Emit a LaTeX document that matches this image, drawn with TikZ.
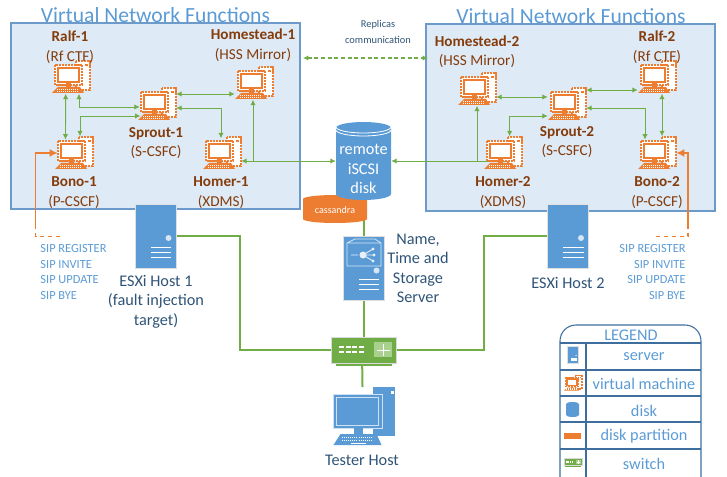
\documentclass[tikz,border=0pt]{standalone}
\usepackage{fontspec}
\setmainfont{Carlito}
\usetikzlibrary{positioning}
\usetikzlibrary{arrows.meta}

\definecolor{boxblue}{HTML}{DEEAF6}
\definecolor{lineblue}{HTML}{6C9BCB}
\definecolor{srvblue}{HTML}{5B9BD5}
\definecolor{darkblue}{HTML}{2F5477}
\definecolor{legblue}{HTML}{3E6E9E}
\definecolor{vmorange}{HTML}{ED7D31}
\definecolor{vmbrown}{HTML}{843C0C}
\definecolor{netgreen}{HTML}{70AD47}
\definecolor{lightgreen}{HTML}{A9D18E}

\tikzset{
 vnfbox/.style={draw=lineblue,fill=boxblue,line width=0.8pt},
 vmnode/.style={rectangle,inner sep=0pt,minimum width=28.5pt,minimum height=24.75pt},
 srvnode/.style={rectangle,inner sep=0pt,minimum width=31pt,minimum height=48pt},
 vmlabel/.style={align=center,text=vmbrown,font=\fontsize{11.4}{14.6}\selectfont},
 hostlabel/.style={align=center,text=darkblue,font=\fontsize{12.2}{14.6}\selectfont},
 vnftitle/.style={text=srvblue,font=\fontsize{16.2}{18}\selectfont},
 siptext/.style={text=srvblue,font=\fontsize{9.3}{11.6}\selectfont},
 legtext/.style={text=srvblue,font=\fontsize{12.2}{14}\selectfont},
 vmlink/.style={draw=netgreen,line width=0.7pt,{Latex[length=4pt,width=4pt]}-{Latex[length=4pt,width=4pt]}},
 vmlinkhalf/.style={draw=netgreen,line width=0.7pt,-{Latex[length=4pt,width=4pt]}},
 netlink/.style={draw=netgreen,line width=1.5pt},
 sipline/.style={draw=vmorange,line width=1.3pt},
 vmdash/.style={draw=vmorange,line width=1pt,dash pattern=on 1.6pt off 0.6pt},
 pics/diskicon/.style n args={4}{code={
  \fill[#4] (-#1,-#2) arc[start angle=180,end angle=360,x radius=#1,y radius=#3]
   -- (#1,#2) arc[start angle=0,end angle=180,x radius=#1,y radius=#3] -- cycle;
 }},
 pics/vmicon/.style={code={
  \draw[vmdash,fill=white] (5,-16) rectangle (19,13);
  \fill[vmorange] (14,-13) rectangle (17,-11);
  \draw[vmdash,fill=white] (-16,-12) rectangle (11,8);
  \draw[vmorange,line width=1.2pt,fill=white] (-13,-9) rectangle (8,5);
  \fill[vmorange] (-5,6) rectangle (0,10);
  \fill[vmorange] (-19,16) -- (-13,10) -- (9,10) -- (13,16) -- cycle;
  \foreach \l in {12,14} \draw[white,densely dotted,line width=0.5pt] (-14,\l) -- (8,\l);
 }},
 pics/srvicon/.style={code={
  \draw[white!75!gray,line width=0.5pt,fill=srvblue] (-20.5,-32) rectangle (20.5,32);
  \fill[white!75!srvblue] (13,2) circle (3);
  \foreach \l in {11,16,21} \draw[white,line width=0.6pt] (-5,\l) -- (15.5,\l);
 }},
 pics/swicon/.style={code={
  \fill[netgreen] (-28,13) rectangle (28,16);
  \draw[white!70!gray,line width=0.6pt,fill=netgreen] (-32.5,-13) rectangle (32.5,13);
  \foreach \px in {-22,-15.5,-9,-2} \foreach \py in {-3,2} \fill[white] (\px-2.5,\py-1.5) rectangle (\px+2.5,\py+1);
  \fill[lightgreen] (10.5,-8) rectangle (28.5,7);
  \draw[white,line width=0.5pt] (13,0) -- (26,0) (19.5,-6) -- (19.5,6);
 }},
 pics/hosticon/.style={code={
  \fill[srvblue] (10.5,-29) rectangle (32.5,20);
  \fill[white] (28,-25) rectangle (31,-22);
  \draw[white!70!srvblue,line width=0.6pt,fill=srvblue] (-29.5,-22) rectangle (19.5,12);
  \draw[white!70!srvblue,line width=0.5pt] (-26,-19) rectangle (16,9);
  \fill[srvblue] (-9,12) rectangle (0,18);
  \fill[srvblue] (-29,29) -- (-22,18) -- (14,18) -- (19,29) -- cycle;
  \foreach \ky in {21,24} \draw[white,densely dotted,line width=0.6pt] (-21,\ky) -- (11,\ky);
  \draw[white,line width=0.6pt] (-12,27) -- (3,27);
 }}
}

\begin{document}
\begin{tikzpicture}[x=0.75pt,y=-0.75pt]
 \useasboundingbox (0,0) rectangle (727,477);
 % boxes of the two clusters
 \draw[vnfbox] (11,23) rectangle (300,209);
 \draw[vnfbox] (426,24) rectangle (715,211);
 \node[vnftitle] (titlea) at (155.5,15) {Virtual Network Functions};
 \node[vnftitle] (titleb) at (571,16) {Virtual Network Functions};
 \node[text=darkblue,align=center,font=\fontsize{7.8}{11.4}\selectfont] (replicas) at (378,32) {Replicas\\communication};
 % nodes
 \foreach \name/\x/\y in {ralfa/71/77,bonoa/74/153,sproua/157/104,homea/254/83,homra/222/153,
  homeb/477/89,sproub/567/104,ralfb/657/77,homrb/503/153,bonob/657/153}
  \node[vmnode] (\name) at (\x,\y) {};
 \foreach \name/\x/\y in {esxa/155.5/236,esxb/568/236,nts/363.5/268.5}
  \node[srvnode] (\name) at (\x,\y) {};
 \node[rectangle,inner sep=0pt,minimum width=48pt,minimum height=19.5pt] (switch) at (363.5,350) {};
 \node[rectangle,inner sep=0pt,minimum width=48pt,minimum height=43pt] (tester) at (362.5,416) {};
 \node[rectangle,inner sep=0pt,minimum width=41.25pt,minimum height=58.5pt] (disk) at (363.5,161) {};
 % links between the virtual machines
 \draw[vmlink] ([xshift=-4pt]ralfa.south) -- ([xshift=-6.4pt,yshift=-2.5pt]bonoa.north);
 \draw[vmlink] ([xshift=6pt]ralfa.south) |- ([xshift=1.5pt,yshift=-2.25pt]sproua.west);
 \draw[vmlink] ([xshift=4.5pt]bonoa.north) |- ([xshift=2pt,yshift=-9pt]sproua.west);
 \draw[vmlink] ([yshift=7.5pt]sproua.east) -- ([yshift=-8.25pt]homea.west);
 \draw[vmlink] ([yshift=-3pt]sproua.east) -| ([xshift=-.75pt,yshift=-1.5pt]homra.north);
 \draw[vmlink] ([yshift=-6pt]homra.east) -- (disk.west);
 \coordinate (brancha) at (253,161);
 \draw[vmlinkhalf] (brancha) -- ([xshift=-.75pt]homea.south);
 \draw[vmlink] (disk.east) -- ([xshift=-2pt,yshift=-6pt]homrb.east);
 \coordinate (branchb) at (477,161);
 \draw[vmlinkhalf] (branchb) -- (homeb.south);
 \draw[vmlink] ([yshift=-6pt]homeb.east) -- ([yshift=5.25pt]sproub.west);
 \draw[vmlink] ([xshift=5pt]homrb.north) |- ([yshift=-9pt]sproub.west);
 \draw[vmlink] ([yshift=10.5pt]sproub.east) -- ([yshift=-9.75pt]ralfb.west);
 \draw[vmlink] ([yshift=-3pt]sproub.east) -| ([xshift=-9pt,yshift=-2.5pt]bonob.north);
 \draw[vmlink] ([xshift=3.75pt]ralfb.south) -- ([xshift=3.75pt]bonob.north);
 \draw[vmlink,densely dashed,line width=0.8pt] (303,58) -- (428,58);
 % lines of the test network
 \draw[netlink] (esxa.east) -| (240,350) -- (switch.west);
 \draw[netlink] (switch.east) -- (484,350) |- (esxb.west);
 \draw[netlink] (disk.south) -- (nts.north);
 \draw[netlink] (nts.south) -- (switch.north);
 \draw[netlink] ([xshift=-1pt]switch.south) -- (tester.north);
 % SIP traffic
 \coordinate (sipa) at (35.5,225);
 \coordinate (sipaend) at (63,236.5);
 \coordinate (sipb) at (688,225);
 \coordinate (sipbend) at (655,236.5);
 \draw[sipline,-{Latex[length=6pt,width=6pt]}] (sipa) |- ([xshift=2.2pt]bonoa.west);
 \draw[sipline,dashed] (sipa) |- (sipaend);
 \draw[sipline,-{Latex[length=6pt,width=6pt]}] (sipb) |- (bonob.east);
 \draw[sipline,dashed] (sipb) |- (sipbend);
 % icons
 \foreach \x/\y in {71/77,74/153,157/104,254/83,222/153,477/89,567/104,657/77,503/153,657/153}
  \pic at (\x,\y) {vmicon};
 \foreach \x/\y in {155.5/236,568/236,363.5/268.5}
  \pic at (\x,\y) {srvicon};
 \draw[white!75!srvblue,line width=0.6pt] (347,266) -- (347,243) -- (355,239) -- (375,239) -- (381,243) -- (381,266) -- cycle (347,243) -- (381,243);
 \draw[white!85!srvblue,line width=0.7pt] (351,255) -- (358,255) (363,255) -- (373,249) (363,255) -- (374,255) (363,255) -- (373,261);
 \fill[white!85!srvblue] (363,255) circle (3.5) (373,249) circle (1.7) (374,255) circle (1.7) (373,261) circle (1.7);
 \pic at (363.5,350) {swicon};
 \pic at (362.5,416) {hosticon};
 \pic at (335,209) {diskicon={32}{10}{4}{vmorange}};
 \pic at (363.5,161) {diskicon={27.5}{33}{6}{srvblue}};
 \draw[white,line width=0.6pt] (336,127) arc[start angle=180,end angle=360,x radius=27.5,y radius=-6]
  (336,130) arc[start angle=180,end angle=360,x radius=27.5,y radius=-6];
 % labels
 \node[text=white,align=center,font=\fontsize{12.2}{14.8}\selectfont] (disktext) at (363.5,169) {remote\\iSCSI\\disk};
 \node[text=white,font=\fontsize{7.5}{9}\selectfont] (parttext) at (335,210) {cassandra};
 \node[vmlabel] (ralfatext) at (70,47) {\textbf{Ralf-1}\\(Rf CTF)};
 \node[vmlabel] (bonoatext) at (74,192.5) {\textbf{Bono-1}\\(P-CSCF)};
 \node[vmlabel] (sprouatext) at (156,143) {\textbf{Sprout-1}\\(S-CSFC)};
 \node[vmlabel] (homeatext) at (253,45) {\textbf{Homestead-1}\\(HSS Mirror)};
 \node[vmlabel] (homratext) at (221,192.5) {\textbf{Homer-1}\\(XDMS)};
 \node[vmlabel] (homebtext) at (477,51.5) {\textbf{Homestead-2}\\(HSS Mirror)};
 \node[vmlabel] (ralfbtext) at (657,47) {\textbf{Ralf-2}\\(Rf CTF)};
 \node[vmlabel] (sproubtext) at (567,142) {\textbf{Sprout-2}\\(S-CSFC)};
 \node[vmlabel] (homrbtext) at (503,192.5) {\textbf{Homer-2}\\(XDMS)};
 \node[vmlabel] (bonobtext) at (657,192.5) {\textbf{Bono-2}\\(P-CSCF)};
 \node[siptext,align=left] (sipatext) at (73.5,272) {SIP REGISTER\\SIP INVITE\\SIP UPDATE\\SIP BYE};
 \node[siptext,align=right] (sipbtext) at (652.5,272) {SIP REGISTER\\SIP INVITE\\SIP UPDATE\\SIP BYE};
 \node[hostlabel] (esxatext) at (156,301.5) {ESXi Host 1\\(fault injection\\target)};
 \node[hostlabel] (esxbtext) at (568,282.5) {ESXi Host 2};
 \node[hostlabel] (ntstext) at (418,268.5) {Name,\\Time and\\Storage\\Server};
 \node[hostlabel] (testertext) at (362,460.5) {Tester Host};
 % legend
 \draw[legblue,line width=0.8pt,rounded corners=12pt] (560,477) -- (560,325) -- (701,325) -- (701,477);
 \foreach \y in {343,370,396,422,449} \draw[legblue,line width=0.8pt] (560,\y) -- (701,\y);
 \draw[legblue,line width=0.8pt] (586,343) -- (586,477);
 \node[legtext] (legtitle) at (631,335) {LEGEND};
 \node[legtext] (legserver) at (644,357) {server};
 \node[legtext] (legvm) at (644,384) {virtual machine};
 \node[legtext] (legdisk) at (644,411) {disk};
 \node[legtext] (legpart) at (644,436) {disk partition};
 \node[legtext] (legswitch) at (644,464) {switch};
 \pic[scale=.27] at (572.5,355) {srvicon};
 \pic[scale=.47] at (573,383) {vmicon};
 \pic at (572.5,409.5) {diskicon={6.5}{5.5}{2}{srvblue}};
 \node[rectangle,inner sep=0pt,fill=vmorange,minimum width=12.75pt,minimum height=4.5pt] (iconpart) at (572.5,435.5) {};
 \pic[scale=.28] at (573,462) {swicon};
\end{tikzpicture}
\end{document}
